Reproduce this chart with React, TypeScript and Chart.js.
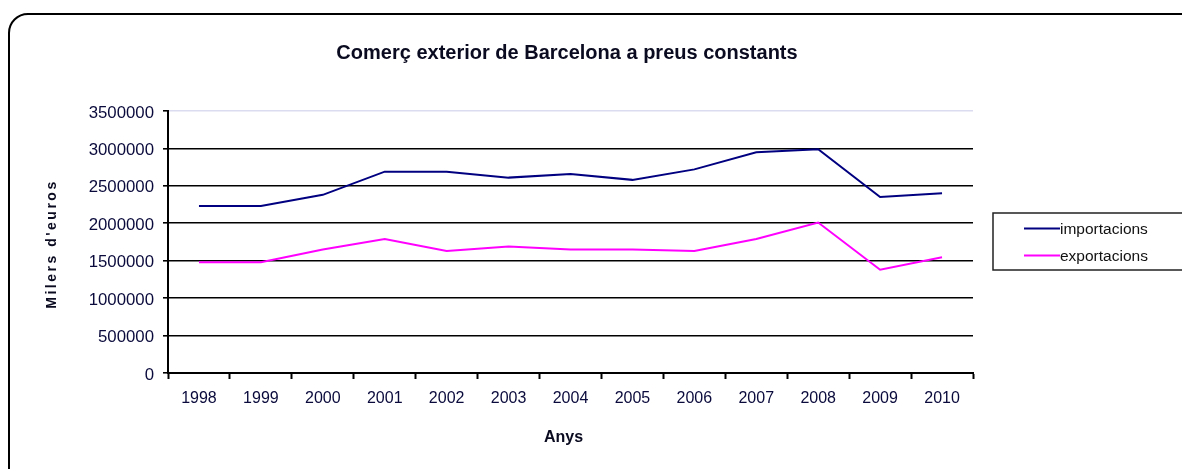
import React, { useEffect, useRef } from "react";
import { Chart, registerables } from "chart.js";

Chart.register(...registerables);

const years = ["1998", "1999", "2000", "2001", "2002", "2003", "2004", "2005", "2006", "2007", "2008", "2009", "2010"];
const importacions = [2230000, 2230000, 2380000, 2690000, 2690000, 2610000, 2660000, 2580000, 2720000, 2950000, 2990000, 2350000, 2400000];
const exportacions = [1480000, 1480000, 1650000, 1790000, 1630000, 1690000, 1650000, 1650000, 1630000, 1790000, 2010000, 1380000, 1545000];
const seriesNames = ["importacions", "exportacions"];
const seriesColors = ["#000080", "#ff00ff"];
const yMin = 0;
const yMax = 3500000;
const yStep = 500000;
const chartTitle = "Comerç exterior de Barcelona a preus constants";
const yTitle = "Milers d'euros";
const xTitle = "Anys";

const FONT = "'Liberation Sans', Arial, sans-serif";

const decorPlugin = {
  id: "decor",
  afterDraw(chart: any) {
    const ctx = chart.ctx;
    const area = chart.chartArea;
    ctx.save();
    // title
    ctx.fillStyle = "#0a0a20";
    ctx.font = `bold 20px ${FONT}`;
    ctx.textAlign = "center";
    ctx.textBaseline = "alphabetic";
    ctx.fillText(chartTitle, 567, 59);
    // x title
    ctx.font = `bold 16px ${FONT}`;
    ctx.fillText(xTitle, (area.left + area.right) / 2 - 7, 442);
    // y title
    ctx.save();
    ctx.translate(56, 245);
    ctx.rotate(-Math.PI / 2);
    (ctx as any).letterSpacing = "2.5px";
    ctx.font = `bold 14px ${FONT}`;
    ctx.fillText(yTitle, 1, 0);
    ctx.restore();
    // legend
    const bx = 993, by = 213, bw = 200, bh = 57;
    ctx.strokeStyle = "#222";
    ctx.lineWidth = 1.5;
    ctx.strokeRect(bx, by, bw, bh);
    const rows = [228.5, 255.5];
    ctx.font = `15.5px ${FONT}`;
    ctx.textAlign = "left";
    ctx.textBaseline = "middle";
    chart.data.datasets.forEach((ds: any, i: number) => {
      ctx.strokeStyle = ds.borderColor;
      ctx.lineWidth = 2;
      ctx.beginPath();
      ctx.moveTo(1024, rows[i]);
      ctx.lineTo(1060, rows[i]);
      ctx.stroke();
      ctx.fillStyle = "#111";
      ctx.fillText(ds.label, 1060, rows[i] + 1);
    });
    ctx.restore();
  },
};

export default function App() {
  const ref = useRef<HTMLCanvasElement>(null);
  useEffect(() => {
    if (!ref.current) return;
    const chart = new Chart(ref.current, {
      type: "line",
      data: {
        labels: years,
        datasets: [
          { label: seriesNames[0], data: importacions, borderColor: seriesColors[0], backgroundColor: seriesColors[0], borderWidth: 2, pointRadius: 0, tension: 0 },
          { label: seriesNames[1], data: exportacions, borderColor: seriesColors[1], backgroundColor: seriesColors[1], borderWidth: 2, pointRadius: 0, tension: 0 },
        ],
      },
      options: {
        animation: false,
        responsive: false,
        layout: { padding: { left: 0, right: 209, top: 111, bottom: 0 } },
        plugins: { legend: { display: false }, title: { display: false }, tooltip: { enabled: false } },
        scales: {
          x: {
            offset: true,
            grid: { offset: true, drawOnChartArea: false, drawTicks: true, tickLength: 6, tickColor: "#000", tickWidth: 2 },
            border: { color: "#000", width: 2 },
            ticks: { color: "#0a0a3c", font: { family: FONT, size: 16 }, padding: 10, maxRotation: 0, autoSkip: false },
            afterFit: (s: any) => { s.height = 96; },
          },
          y: {
            min: yMin,
            max: yMax,
            grid: {
              color: (c: any) => (c.tick && c.tick.value === yMax ? "#dcdcf0" : "#000"),
              lineWidth: 1.6,
              drawTicks: true,
              tickLength: 5,
              tickColor: "#000",
              tickWidth: 1.6,
            },
            border: { color: "#000", width: 2 },
            ticks: { stepSize: yStep, color: "#0a0a3c", font: { family: FONT, size: 16.8 }, padding: 9, labelOffset: 2, callback: (v: any) => String(v) },
            afterFit: (s: any) => { s.width = 168; },
          },
        },
      },
      plugins: [decorPlugin],
    });
    return () => chart.destroy();
  }, []);
  return (
    <div style={{ position: "fixed", left: 0, top: 0, width: 1182, height: 469, overflow: "hidden", background: "#fff" }}>
      <div style={{ position: "absolute", left: 8, top: 13, width: 1200, height: 500, border: "2px solid #000", borderRadius: 20, boxSizing: "border-box" }} />
      <canvas ref={ref} width={1182} height={469} style={{ position: "absolute", left: 0, top: 0 }} />
    </div>
  );
}
